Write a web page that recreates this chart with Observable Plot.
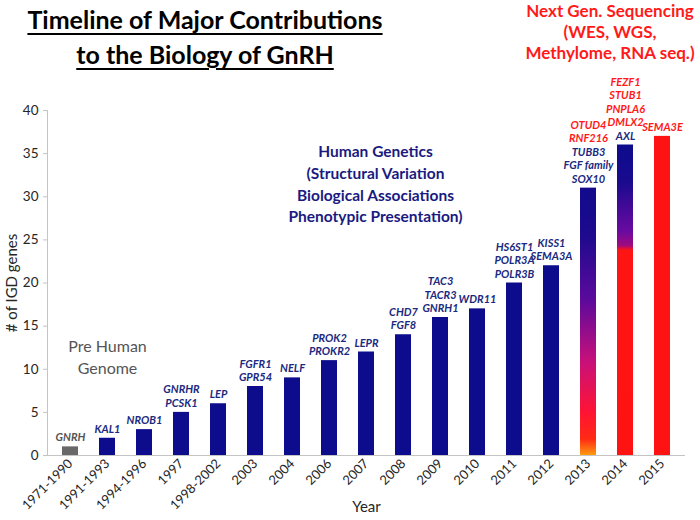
<!DOCTYPE html>
<html><head><meta charset="utf-8">
<script src="https://cdn.jsdelivr.net/npm/d3@7"></script>
<script src="https://cdn.jsdelivr.net/npm/@observablehq/plot@0.6"></script>
<style>
body{margin:0;background:#fff;font-family:Lato,sans-serif}
#wrap{width:700px;height:520px;overflow:hidden}
#head{position:relative;height:70px;width:700px}
#title{position:absolute;left:5px;width:400px;top:2px;text-align:center;font-weight:bold;font-size:25px;line-height:35px;color:#000}
#title span{text-decoration:underline;text-decoration-thickness:2px;text-underline-offset:4px}
#ngs{position:absolute;left:515px;width:190px;top:0;text-align:center;color:#ff1a1a;font-weight:bold;font-size:17px;line-height:21px}
svg text{font-family:Lato,sans-serif}
</style></head>
<body>
<div id="wrap">
<div id="head">
<div id="title"><span>Timeline of Major Contributions</span><br><span>to the Biology of GnRH</span></div>
<div id="ngs">Next Gen. Sequencing<br>(WES, WGS,<br>Methylome, RNA seq.)</div>
</div>
<div id="chart"></div>
</div>
<script>
const categories = ["1971-1990","1991-1993","1994-1996","1997","1998-2002","2003","2004","2006","2007","2008","2009","2010","2011","2012","2013","2014","2015"];
const counts = [1,2,3,5,6,8,9,11,12,14,16,17,20,22,31,36,37];
const genes = [["GNRH"],["KAL1"],["NROB1"],["GNRHR","PCSK1"],["LEP"],["FGFR1","GPR54"],["NELF"],["PROK2","PROKR2"],["LEPR"],["CHD7","FGF8"],["TAC3","TACR3","GNRH1"],["WDR11"],["HS6ST1","POLR3A","POLR3B"],["KISS1","SEMA3A"],["OTUD4","RNF216","TUBB3","FGF family","SOX10"],["FEZF1","STUB1","PNPLA6","DMLX2","AXL"],["SEMA3E"]];
const ngsGenes = ["OTUD4","RNF216","FEZF1","STUB1","PNPLA6","DMLX2","SEMA3E"];
const eras = ["pre","human","human","human","human","human","human","human","human","human","human","human","human","human","mix2013","mix2014","ngs"];
const yTicks = [0,5,10,15,20,25,30,35,40];
const yLabel = "# of IGD genes";
const xLabel = "Year";
const humanNote = "Human Genetics\n(Structural Variation\nBiological Associations\nPhenotypic Presentation)";
const preNote = "Pre Human\nGenome";

const eraFill = {pre:"#686868", human:"#0c0c8c", mix2013:"url(#g2013)", mix2014:"url(#g2014)", ngs:"#ff1212"};
const navyText = "#1b2a80", redText = "#ff1a1a", grayText = "#555555";

const bars = categories.map((c,i)=>({cat:c, count:counts[i], fill:eraFill[eras[i]]}));
const labelRows = [];
categories.forEach((c,i)=>{
  const g = genes[i];
  g.forEach((name,j)=>{
    labelRows.push({cat:c, count:counts[i], gene:name, k:g.length-1-j,
      color: ngsGenes.includes(name) ? redText : (eras[i]==="pre" ? grayText : navyText)});
  });
});
const labelMarks = [0,1,2,3,4].map(k => Plot.text(labelRows.filter(d=>d.k===k), {
  x:"cat", y:"count", text:"gene", fill:"color", dy:-9-k*13.5,
  fontSize:11, fontWeight:"bold", fontStyle:"italic"
}));

const plot = Plot.plot({
  width:700, height:450, marginLeft:47, marginRight:15, marginTop:40, marginBottom:65,
  style:{fontFamily:"Lato, sans-serif", background:"white", overflow:"visible", color:"#262626"},
  x:{domain:categories, paddingInner:0.57, paddingOuter:0.29},
  y:{domain:[0,40]},
  color:{type:"identity"},
  marks:[
    Plot.frame({anchor:"left", stroke:"#c4c4c4"}),
    Plot.barY(bars, {x:"cat", y:"count", fill:"fill"}),
    Plot.ruleY([0], {stroke:"#c4c4c4"}),
    Plot.axisY({ticks:yTicks, tickSize:4, tickPadding:5, fontSize:13.5, stroke:"#c4c4c4", label:null}),
    Plot.axisX({tickSize:0, tickRotate:-45, tickPadding:6, fontSize:13, label:null}),
    Plot.text([yLabel], {frameAnchor:"left", dx:-35, rotate:-90, textAnchor:"middle", lineAnchor:"middle", text:d=>d, fontSize:15, fill:"#262626"}),
    Plot.text([xLabel], {frameAnchor:"bottom", dy:52, lineAnchor:"middle", text:d=>d, fontSize:15, fill:"#262626"}),
    ...labelMarks,
    Plot.text([humanNote], {x:()=>"2007", y:()=>31.6, dx:9, text:d=>d, fontSize:15.5, fontWeight:"bold", fill:"#1a1a80", lineHeight:1.4}),
    Plot.text([preNote], {x:()=>"1991-1993", y:()=>11.5, text:d=>d, fontSize:16, fill:"#555555", lineHeight:1.35})
  ]
});

const svg = d3.select(plot);
const defs = svg.insert("defs", ":first-child");
function grad(id, stops){
  const g = defs.append("linearGradient").attr("id",id).attr("x1",0).attr("y1",0).attr("x2",0).attr("y2",1);
  stops.forEach(([o,c])=>g.append("stop").attr("offset",o).attr("stop-color",c));
}
grad("g2013", [[0,"#120a8c"],[0.18,"#1e0a8e"],[0.42,"#5c0a9c"],[0.65,"#c8107a"],[0.84,"#ff1434"],[0.94,"#ff2a14"],[1,"#ff9a10"]]);
grad("g2014", [[0,"#0c0c8c"],[0.12,"#1a0a8e"],[0.28,"#6a0aa0"],[0.325,"#a00a80"],[0.34,"#ff1414"],[1,"#ff1212"]]);
document.getElementById("chart").appendChild(plot);
</script>
</body></html>
